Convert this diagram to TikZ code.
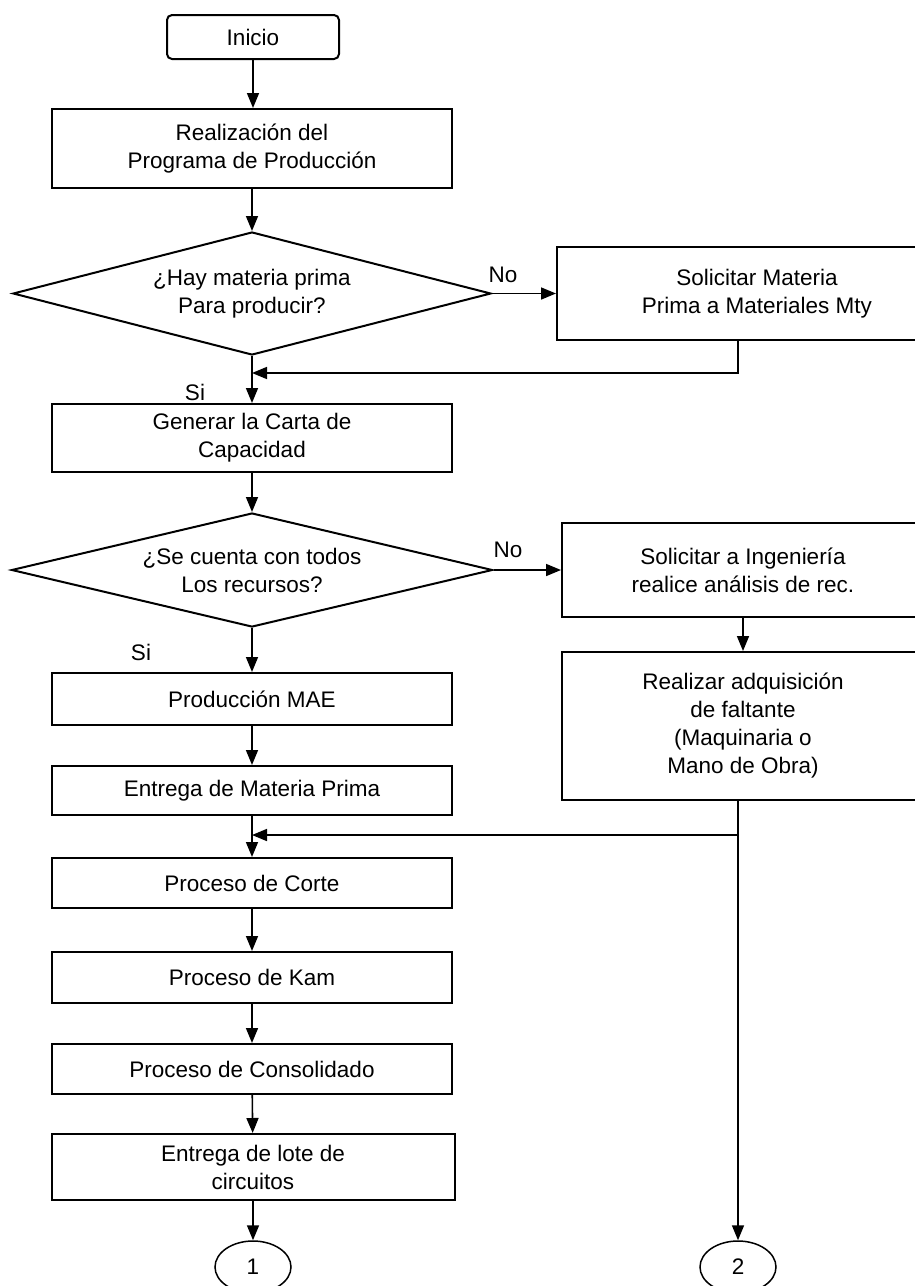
\documentclass[tikz,border=0pt]{standalone}
\usepackage{fontspec}
\setmainfont{Liberation Sans}
\usetikzlibrary{shapes.geometric,arrows.meta}
\begin{document}
\begin{tikzpicture}[x=1pt,y=-1pt,
  every node/.style={font=\fontsize{22.5}{28}\selectfont, align=center, inner sep=0pt},
  box/.style={draw, line width=2pt, minimum width=400pt},
  startbox/.style={draw, line width=2pt, rounded corners=5pt},
  dec/.style={draw, shape=diamond, aspect=3.9, line width=2pt},
  conn/.style={draw, shape=ellipse, line width=1.5pt, minimum width=76pt, minimum height=52pt},
  lbl/.style={},
  arr/.style={line width=1.6pt, -{Triangle[length=15pt,width=12pt]}}
]
\useasboundingbox (0,0) rectangle (915,1286);

\node[startbox, minimum width=172pt, minimum height=44pt] (ini) at (253,37) {Inicio};
\node[box, minimum height=79pt] (real) at (252,148.5) {Realización del\\Programa de Producción};
\node[dec, minimum width=478pt, minimum height=123pt] (d1) at (252,293.5) {¿Hay materia prima\\Para producir?};
\node[box, minimum height=93pt] (sm) at (757,293.5) {Solicitar Materia\\Prima a Materiales Mty};
\node[lbl] (no1) at (503,275) {No};
\node[lbl] (si1) at (195,392) {Si};
\node[box, minimum height=68pt] (gen) at (252,438) {Generar la Carta de\\Capacidad};
\node[dec, minimum width=481pt, minimum height=114pt] (d2) at (252,570) {¿Se cuenta con todos\\Los recursos?};
\node[lbl] (no2) at (508,550) {No};
\node[box, minimum width=362pt, minimum height=94pt] (si) at (743,570) {Solicitar a Ingeniería\\realice análisis de rec.};
\node[box, minimum width=362pt, minimum height=148pt] (ra) at (743,726) {Realizar adquisición\\de faltante\\(Maquinaria o\\Mano de Obra)};
\node[lbl] (si2) at (141,652) {Si};
\node[box, minimum height=52pt] (prod) at (252,699) {Producción MAE};
\node[box, minimum height=49pt] (emp) at (252,790.5) {Entrega de Materia Prima};
\node[box, minimum height=50pt] (corte) at (252,883) {Proceso de Corte};
\node[box, minimum height=51pt] (kam) at (252,977.5) {Proceso de Kam};
\node[box, minimum height=50pt] (cons) at (252,1069) {Proceso de Consolidado};
\node[box, minimum width=403pt, minimum height=66pt] (lote) at (253,1167) {Entrega de lote de\\circuitos};
\node[conn] (c1) at (253,1267) {1};
\node[conn] (c2) at (738,1267) {2};

\coordinate (t1) at (738,0);
\coordinate (j1) at (252,373);
\coordinate (j2) at (252,835);
\coordinate (b2) at (738,835);

\draw[arr] (ini.south) -- (ini.south |- real.north);
\draw[arr] (real) -- (d1);
\draw[arr] (d1.east) -- (sm.west);
\draw[arr] (sm.south -| t1) |- (j1);
\draw[arr] (d1.south) -- (gen.north);
\draw[arr] (gen) -- (d2);
\draw[arr] (d2.east) -- (si.west);
\draw[arr] (si) -- (ra);
\draw[arr] (d2.south) -- (prod.north);
\draw[arr] (prod) -- (emp);
\draw[arr] (emp) -- (corte);
\draw[arr] (ra.south -| t1) -- (c2.north);
\draw[arr] (b2) -- (j2);
\draw[arr] (corte) -- (kam);
\draw[arr] (kam) -- (cons);
\draw[arr] (cons) -- (lote);
\draw[arr] (lote) -- (c1);
\end{tikzpicture}
\end{document}
